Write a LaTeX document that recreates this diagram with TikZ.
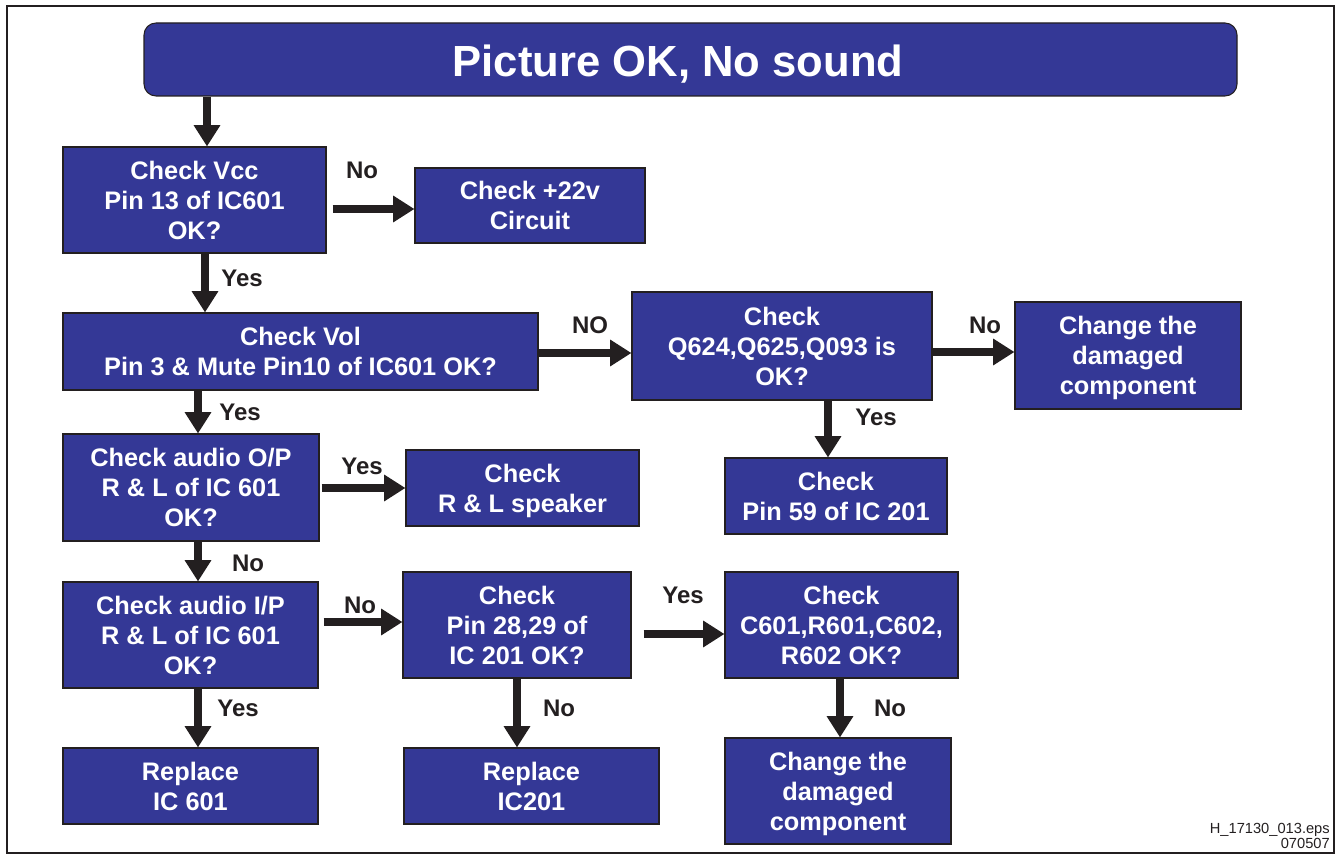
\documentclass[tikz,border=0pt]{standalone}
\usepackage{fontspec}
\setmainfont{Liberation Sans}
\usetikzlibrary{arrows.meta}
\definecolor{panelblue}{RGB}{52,56,150}
\definecolor{inkdark}{RGB}{35,31,32}
% one flow box from its corners (x1,y1) to (x2,y2), in pixel units
\newcommand\flowbox[6]{%
  \node[box, minimum width={(#4-#2)*0.75pt}, minimum height={(#5-#3)*0.75pt}]
    (#1) at ({(#2+#4)/2},{(#3+#5)/2}) {#6};}
\begin{document}
\begin{tikzpicture}[x=0.75pt, y=-0.75pt,
  box/.style={draw=inkdark, line width=0.8pt, fill=panelblue, text=white,
    font=\bfseries\fontsize{19}{22.5}\selectfont, align=center, inner sep=0pt,
    text depth=0pt},
  arr/.style={draw=inkdark, line width=5.5pt,
    -{Triangle[width=19pt, length=16pt]}},
  lbl/.style={text=inkdark, font=\bfseries\fontsize{18}{21}\selectfont, inner sep=0pt}]
\useasboundingbox (0,0) rectangle (1338,855);
% frame
\draw[inkdark, line width=1.5pt] (7,6) rectangle (1334,853);

% title bar and its caption
\node[box, rounded corners=9pt,
  minimum width={(1237-144)*0.75pt}, minimum height={(96-23)*0.75pt}]
  (title) at ({(144+1237)/2},{(23+96)/2}) {};
\node[anchor=base, inner sep=0pt, text=white,
  font=\bfseries\fontsize{32.7}{38}\selectfont] (titlecaption) at (678,77)
  {Picture OK, No sound};

% flow boxes
\flowbox{vcc}{63}{147}{326}{253}{Check Vcc\\Pin 13 of IC601\\OK?}
\flowbox{v22}{415}{168}{645}{243}{Check +22v\\Circuit}
\flowbox{vol}{63}{313}{538}{390}{Check Vol\\Pin 3 \& Mute Pin10 of IC601 OK?}
\flowbox{q624}{632}{292}{932}{400}{Check\\Q624,Q625,Q093 is\\OK?}
\flowbox{chg1}{1015}{302}{1241}{409}{Change the\\damaged\\component}
\flowbox{pin59}{725}{458}{947}{534}{Check\\Pin 59 of IC 201}
\flowbox{aop}{63}{434}{319}{541}{Check audio O/P\\R \& L of IC 601\\OK?}
\flowbox{spk}{406}{450}{639}{526}{Check\\R \& L speaker}
\flowbox{aip}{63}{582}{318}{688}{Check audio I/P\\R \& L of IC 601\\OK?}
\flowbox{pin28}{403}{572}{631}{678}{Check\\Pin 28,29 of\\IC 201 OK?}
\flowbox{c601}{725}{572}{958}{678}{Check\\C601,R601,C602,\\R602 OK?}
\flowbox{ic601}{63}{748}{318}{824}{Replace\\IC 601}
\flowbox{ic201}{404}{748}{659}{824}{Replace\\IC201}
\flowbox{chg2}{725}{738}{951}{844}{Change the\\damaged\\component}

% connectors
\draw[arr] (title.south -| 207,0) -- (vcc.north -| 207,0);
\draw[arr, shorten <=4.5pt] (vcc.east |- 0,209) -- (v22.west |- 0,209);
\draw[arr] (vcc.south -| 205,0) -- (vol.north -| 205,0);
\draw[arr] (vol.east |- 0,353) -- (q624.west |- 0,353);
\draw[arr] (q624.east |- 0,352) -- (chg1.west |- 0,352);
\draw[arr] (q624.south -| 828,0) -- (pin59.north -| 828,0);
\draw[arr] (vol.south -| 198,0) -- (aop.north -| 198,0);
\draw[arr, shorten <=1.5pt] (aop.east |- 0,488) -- (spk.west |- 0,488);
\draw[arr] (aop.south -| 198,0) -- (aip.north -| 198,0);
\draw[arr, shorten <=3.75pt] (aip.east |- 0,622) -- (pin28.west |- 0,622);
\draw[arr, shorten <=9pt] (pin28.east |- 0,634) -- (c601.west |- 0,634);
\draw[arr] (pin28.south -| 517,0) -- (ic201.north -| 517,0);
\draw[arr] (c601.south -| 840,0) -- (chg2.north -| 840,0);
\draw[arr] (aip.south -| 198,0) -- (ic601.north -| 198,0);

% branch labels
\node[lbl] (l1) at (362,170) {No};
\node[lbl] (l2) at (242,278) {Yes};
\node[lbl] (l3) at (590,325) {NO};
\node[lbl] (l4) at (985,325) {No};
\node[lbl] (l5) at (876,417) {Yes};
\node[lbl] (l6) at (240,412) {Yes};
\node[lbl] (l7) at (362,466) {Yes};
\node[lbl] (l8) at (248,563) {No};
\node[lbl] (l9) at (360,605) {No};
\node[lbl] (l10) at (683,595) {Yes};
\node[lbl] (l11) at (559,708) {No};
\node[lbl] (l12) at (890,708) {No};
\node[lbl] (l13) at (238,708) {Yes};

% file reference
\node[anchor=north east, align=right, inner sep=0pt, text=inkdark,
  font=\fontsize{11}{11.5}\selectfont] (ref) at (1330,823)
  {H\_17130\_013.eps\\070507};
\end{tikzpicture}
\end{document}
